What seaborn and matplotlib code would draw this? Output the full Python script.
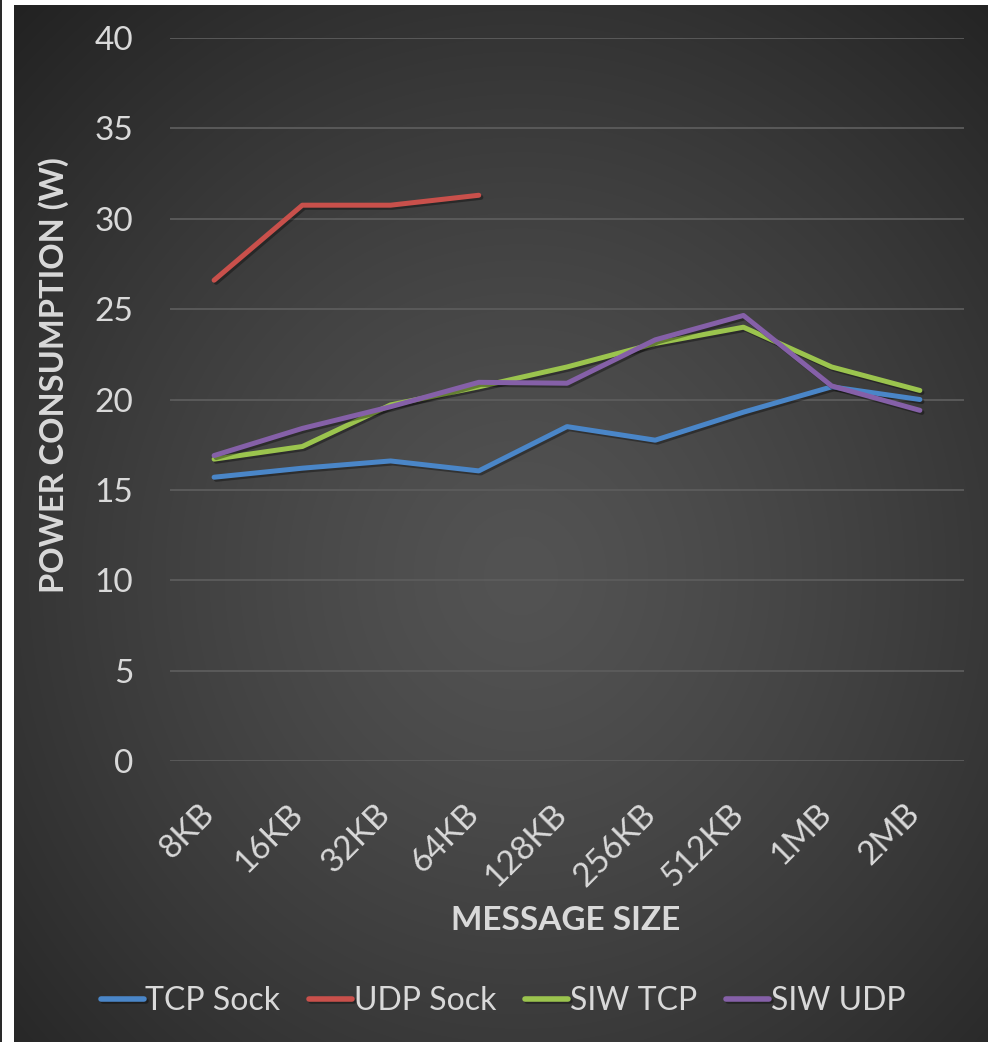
import numpy as np
import pandas as pd
import matplotlib
matplotlib.use("Agg")
import matplotlib.pyplot as plt
from matplotlib import patheffects as pe
from matplotlib.patches import Rectangle
from matplotlib.transforms import ScaledTranslation
import seaborn as sns

# Message sizes on the x axis
sizes = ["8KB", "16KB", "32KB", "64KB", "128KB", "256KB", "512KB", "1MB", "2MB"]

# Power consumption (W) per transport
tcp_sock = [15.7, 16.2, 16.6, 16.05, 18.5, 17.75, 19.3, 20.7, 20.0]
udp_sock = [26.6, 30.75, 30.75, 31.3, np.nan, np.nan, np.nan, np.nan, np.nan]
siw_tcp = [16.7, 17.4, 19.7, 20.7, 21.8, 23.1, 24.0, 21.8, 20.5]
siw_udp = [16.9, 18.4, 19.6, 20.95, 20.9, 23.3, 24.65, 20.75, 19.4]

series_names = ["TCP Sock", "UDP Sock", "SIW TCP", "SIW UDP"]
series_values = [tcp_sock, udp_sock, siw_tcp, siw_udp]
y_ticks = [0, 5, 10, 15, 20, 25, 30, 35, 40]

colors = {"TCP Sock": "#4A86C8", "UDP Sock": "#C9504B",
          "SIW TCP": "#9BC44E", "SIW UDP": "#8560A8"}

rows = []
for name, vals in zip(series_names, series_values):
    for s, v in zip(sizes, vals):
        rows.append({"size": s, "power": v, "series": name})
df = pd.DataFrame(rows).dropna()

sns.set_theme(style="dark")
plt.rcParams["font.family"] = ["Lato", "DejaVu Sans"]
text_color = "#D9D9D9"

W, H = 996, 1042
fig = plt.figure(figsize=(W / 100, H / 100), dpi=100, facecolor="white")

# dark panel with soft radial shading
px0, px1, py0, py1 = 14, 988, 5, 1042
bg = fig.add_axes([px0 / W, 1 - py1 / H, (px1 - px0) / W, (py1 - py0) / H], zorder=-5)
gw, gh = px1 - px0, py1 - py0
yy, xx = np.mgrid[0:gh, 0:gw]
cx, cy = 0.52 * gw, 0.55 * gh
d = np.sqrt(((xx - cx) / (0.78 * gw)) ** 2 + ((yy - cy) / (0.78 * gh)) ** 2)
d = np.clip(d, 0, 1) ** 1.3
c_in, c_out = 0x53 / 255, 0x20 / 255
shade = c_in + (c_out - c_in) * d
bg.imshow(np.dstack([shade, shade, shade]), aspect="auto", interpolation="bilinear")
bg.axis("off")

# thin dark rule at the left edge
fig.patches.append(Rectangle((0, 0), 2 / W, 1, transform=fig.transFigure,
                             facecolor="#2a2a2a", edgecolor="none"))

ax = fig.add_axes([170 / W, 1 - 761 / H, 794 / W, 723 / H])
ax.set_facecolor("none")

sns.lineplot(data=df, x="size", y="power", hue="series", hue_order=series_names,
             palette=colors, sort=False, linewidth=3.6, ax=ax, legend=True)

for line in ax.get_lines():
    line.set_solid_capstyle("round")
    line.set_solid_joinstyle("round")
    line.set_path_effects([pe.SimpleLineShadow(offset=(1.5, -1.5), shadow_color="black", alpha=0.35),
                           pe.Normal()])

ax.set_xlim(-0.5, len(sizes) - 0.5)
ax.set_ylim(0, 40)
ax.set_yticks(y_ticks)
ax.set_yticklabels([str(t) for t in y_ticks])
ax.grid(axis="y", color="#5c5c5c", linewidth=1.3)
ax.grid(axis="x", visible=False)
for sp in ax.spines.values():
    sp.set_visible(False)

ax.tick_params(axis="y", length=0, pad=26.5, labelsize=24, labelcolor=text_color)
ax.tick_params(axis="x", length=0, pad=27, labelsize=24, labelcolor=text_color)
shift = ScaledTranslation(6 / 100, 0, fig.dpi_scale_trans)
for lab in ax.get_xticklabels():
    lab.set_rotation(45)
    lab.set_ha("right")
    lab.set_transform(lab.get_transform() + shift)

ax.set_xlabel("MESSAGE SIZE", fontsize=24, fontweight="bold", color=text_color)
ax.xaxis.set_label_coords((566 - 170) / 794, (761 - 920) / 723)
ax.xaxis.label.set_va("center")
ax.set_ylabel("POWER CONSUMPTION (W)", fontsize=23.5, fontweight="bold", color=text_color)
ax.yaxis.set_label_coords((54 - 170) / 794, (761 - 375) / 723)
ax.yaxis.label.set_va("center")

handles, labels = ax.get_legend_handles_labels()
ax.get_legend().remove()
for h in handles:
    h.set_linewidth(4)
leg = fig.legend(handles, labels, loc="center", bbox_to_anchor=(503 / W, 1 - 1001 / H),
                 ncol=4, frameon=False, fontsize=23, handlelength=1.35, handletextpad=0.05,
                 columnspacing=0.9)
for t in leg.get_texts():
    t.set_color(text_color)

fig.savefig("out.png", dpi=100, facecolor="white")
